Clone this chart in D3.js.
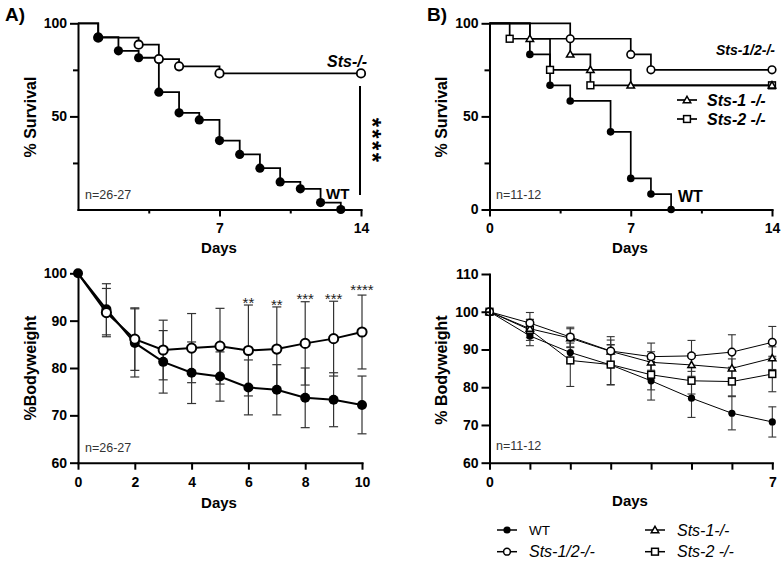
<!DOCTYPE html>
<html><head><meta charset="utf-8">
<script src="https://cdn.jsdelivr.net/npm/d3@7/dist/d3.min.js"></script>
<style>body{margin:0;background:#fff}svg{display:block}</style>
</head><body>
<svg id="chart" width="781" height="562"></svg>
<script>
// ---------- DATA ----------
// Panel A survival (Kaplan-Meier steps)
const survA_WT_days = [0,1,2,3,4,5,6,7,8,9,10,11,12,13];
const survA_WT_vals = [100,92.6,85.2,81.5,63.0,51.9,48.1,37.0,29.6,22.2,14.8,11.1,3.7,0];
const survA_KO_days = [0,1,3,4,5,7,14];
const survA_KO_vals = [100,92.3,88.5,80.8,76.9,73.1,73.1];
// Panel A bodyweight
const bwA_days = [0,1,2,3,4,5,6,7,8,9,10];
const bwA_WT_mean = [100,92.4,85.3,81.3,79.0,78.2,75.9,75.4,73.7,73.3,72.2];
const bwA_WT_sd   = [0,5.4,7.2,6.6,6.5,5.2,5.8,5.3,6.3,5.7,6.1];
const bwA_KO_mean = [100,91.7,86.1,83.8,84.2,84.6,83.7,84.0,85.2,86.2,87.6];
const bwA_KO_sd   = [0,5.1,6.6,6.3,7.3,8.0,9.6,8.9,8.8,7.9,7.8];
const bwA_sigDays = [6,7,8,9,10];
const bwA_sigText = ["**","**","***","***","****"];
// Panel B survival
const survB_WT_days = [0,2,3,4,6,7,8,9];
const survB_WT_vals = [100,83.3,66.7,58.3,41.7,16.7,8.3,0];
const survB_DKO_days = [0,4,7,8,14];
const survB_DKO_vals = [100,91.7,83.3,75,75];
const survB_S1_days = [0,2,4,5,7,14];
const survB_S1_vals = [100,91.7,83.3,75,66.7,66.7];
const survB_S2_days = [0,1,3,5,14];
const survB_S2_vals = [100,91.7,75,66.7,66.7];
// Panel B bodyweight
const bwB_days = [0,1,2,3,4,5,6,7];
const bwB_WT_mean  = [100,93.6,89.2,85.9,81.7,77.1,73.1,70.8];
const bwB_WT_sd    = [0,2.6,2.5,5.3,5.1,5.1,4.4,4.0];
const bwB_DKO_mean = [100,97.0,93.3,89.6,88.1,88.3,89.3,91.9];
const bwB_DKO_sd   = [0,2.8,2.6,3.8,3.6,4.1,4.6,4.2];
const bwB_S1_mean  = [100,95.5,93.0,89.5,86.6,85.9,85.0,87.7];
const bwB_S1_sd    = [0,2.4,2.5,3.0,2.8,3.0,2.5,3.0];
const bwB_S2_mean  = [100,95.2,87.1,86.0,83.3,81.7,81.5,83.5];
const bwB_S2_sd    = [0,2.8,6.9,5.3,4.0,3.5,3.8,4.7];
// Labels
const legendLabels = ["WT","Sts-1/2-/-","Sts-1-/-","Sts-2 -/-"];

// ---------- SETUP ----------
const F = "'Liberation Sans', Arial, Helvetica, sans-serif";
const svg = d3.select("#chart");
svg.append("rect").attr("width",781).attr("height",562).attr("fill","#fff");

function marker(g, type, cx, cy, s, sw){
  if(type==="fcircle"){
    g.append("circle").attr("cx",cx).attr("cy",cy).attr("r",s).attr("fill","#000");
  } else if(type==="ocircle"){
    g.append("circle").attr("cx",cx).attr("cy",cy).attr("r",s).attr("fill","#fff").attr("stroke","#000").attr("stroke-width",sw);
  } else if(type==="square"){
    g.append("rect").attr("x",cx-s).attr("y",cy-s).attr("width",2*s).attr("height",2*s).attr("fill","#fff").attr("stroke","#000").attr("stroke-width",sw);
  } else if(type==="triangle"){
    const h=s*1.1;
    g.append("path").attr("d",`M${cx},${cy-h}L${cx+s*1.1},${cy+s*0.8}L${cx-s*1.1},${cy+s*0.8}Z`).attr("fill","#fff").attr("stroke","#000").attr("stroke-width",sw);
  }
}

function styleAxis(sel, fs){
  sel.selectAll("path").attr("stroke","#000").attr("stroke-width",2).attr("stroke-linecap","square");
  sel.selectAll("line").attr("stroke","#000").attr("stroke-width",2);
  sel.selectAll("text").attr("font-family",F).attr("font-weight","bold").attr("font-size",fs).attr("fill","#000");
}

function yAxis(x0, y, major, minor, labelled, fs){
  const a = svg.append("g").attr("transform",`translate(${x0},0)`)
    .call(d3.axisLeft(y).tickValues(major).tickSizeInner(8).tickSizeOuter(0).tickPadding(3)
      .tickFormat(d=>labelled.includes(d)?d:""));
  styleAxis(a, fs);
  if(minor.length){
    const m = svg.append("g").attr("transform",`translate(${x0},0)`)
      .call(d3.axisLeft(y).tickValues(minor).tickSizeInner(5).tickSizeOuter(0).tickFormat(""));
    styleAxis(m, fs); m.select("path").remove();
  }
}
function xAxis(y0, x, major, minor, labelled, fs){
  const a = svg.append("g").attr("transform",`translate(0,${y0})`)
    .call(d3.axisBottom(x).tickValues(major).tickSizeInner(7).tickSizeOuter(0).tickPadding(7)
      .tickFormat(d=>labelled.includes(d)?d:""));
  styleAxis(a, fs);
  if(minor.length){
    const m = svg.append("g").attr("transform",`translate(0,${y0})`)
      .call(d3.axisBottom(x).tickValues(minor).tickSizeInner(4).tickSizeOuter(0).tickFormat(""));
    styleAxis(m, fs); m.select("path").remove();
  }
}
function text(x,y,t,o={}){
  const e = svg.append("text").attr("x",x).attr("y",y).text(t)
    .attr("font-family",F).attr("font-size",o.size||14).attr("font-weight",o.weight||"normal")
    .attr("font-style",o.style||"normal").attr("fill",o.fill||"#000")
    .attr("text-anchor",o.anchor||"start");
  if(o.rotate) e.attr("transform",`rotate(${o.rotate},${x},${y})`);
  return e;
}
function survivalSeries(x, y, days, vals, type, s, sw, lw){
  const pts = days.map((d,i)=>[d,vals[i]]);
  const line = d3.line().x(d=>x(d[0])).y(d=>y(d[1])).curve(d3.curveStepAfter);
  svg.append("path").attr("d",line(pts)).attr("fill","none").attr("stroke","#000").attr("stroke-width",lw);
  return ()=>{ const g=svg.append("g"); pts.slice(1).forEach(p=>marker(g,type,x(p[0]),y(p[1]),s,sw)); };
}
function bwSeries(x, y, days, mean, sd, lw, capW, errCol, errW){
  const g = svg.append("g");
  days.forEach((d,i)=>{
    if(sd[i]<=0) return;
    const cx=x(d), t=y(mean[i]+sd[i]), b=y(mean[i]-sd[i]);
    g.append("line").attr("x1",cx).attr("x2",cx).attr("y1",t).attr("y2",b).attr("stroke",errCol).attr("stroke-width",errW);
    [t,b].forEach(v=>g.append("line").attr("x1",cx-capW).attr("x2",cx+capW).attr("y1",v).attr("y2",v).attr("stroke",errCol).attr("stroke-width",errW));
  });
}
function bwLine(x,y,days,mean,lw){
  const line=d3.line().x((d,i)=>x(days[i])).y(d=>y(d));
  svg.append("path").attr("d",line(mean)).attr("fill","none").attr("stroke","#000").attr("stroke-width",lw);
}

// ---------- PANEL A: survival ----------
{
  const x = d3.scaleLinear().domain([0,14]).range([78,361]);
  const y = d3.scaleLinear().domain([0,100]).range([209.5,23.3]);
  const mKO = survivalSeries(x,y,survA_KO_days,survA_KO_vals,"ocircle",4.2,1.8,1.8);
  const mWT = survivalSeries(x,y,survA_WT_days,survA_WT_vals,"fcircle",4.6,1.8,1.8);
  mKO(); mWT();
  yAxis(78,y,[100,50],[75,25],[100,50],14);
  xAxis(209.5,x,[7,14],[3.5,10.5],[7,14],14);
  text(5,21,"A)",{size:19,weight:"bold"});
  text(30,117,"% Survival",{size:16,weight:"bold",anchor:"middle",rotate:-90}).attr("dy","0.35em");
  text(219,253,"Days",{size:15,weight:"bold",anchor:"middle"});
  text(367,67,"Sts-/-",{size:16,weight:"bold",style:"italic",anchor:"end"});
  text(326,199,"WT",{size:15,weight:"bold"});
  text(85,199,"n=26-27",{size:12.5,fill:"#333"});
  svg.append("line").attr("x1",360).attr("x2",360).attr("y1",86).attr("y2",195).attr("stroke","#000").attr("stroke-width",2);
  // significance stars as a single rotated text
  text(364,141,"****",{size:24,weight:"bold",anchor:"middle",rotate:90}).attr("letter-spacing","2.3px");
}

// ---------- PANEL A: bodyweight ----------
{
  const x = d3.scaleLinear().domain([0,10]).range([78,362]);
  const y = d3.scaleLinear().domain([60,100]).range([462.7,273.3]);
  bwSeries(x,y,bwA_days,bwA_WT_mean,bwA_WT_sd,2,4.5,"#333",1.2);
  bwSeries(x,y,bwA_days,bwA_KO_mean,bwA_KO_sd,2,4.5,"#333",1.2);
  bwLine(x,y,bwA_days,bwA_WT_mean,2);
  bwLine(x,y,bwA_days,bwA_KO_mean,2);
  const g=svg.append("g");
  bwA_days.forEach((d,i)=>marker(g,"fcircle",x(d),y(bwA_WT_mean[i]),5,2));
  bwA_days.forEach((d,i)=>{ if(i>0) marker(g,"ocircle",x(d),y(bwA_KO_mean[i]),4.6,2); });
  bwA_sigDays.forEach((d,i)=>{
    const idx=bwA_days.indexOf(d);
    const top=Math.min(y(bwA_KO_mean[idx]+bwA_KO_sd[idx]),y(bwA_WT_mean[idx]+bwA_WT_sd[idx]));
    text(x(d),top-6+8.6-(i===4?3:0),bwA_sigText[i],{size:15,anchor:"middle",fill:"#222"});
  });
  yAxis(78,y,[60,70,80,90,100],[],[60,70,80,90,100],14);
  xAxis(462.7,x,[0,2,4,6,8,10],[],[0,2,4,6,8,10],14);
  text(30,368,"%Bodyweight",{size:16,weight:"bold",anchor:"middle",rotate:-90}).attr("dy","0.35em");
  text(219,508,"Days",{size:15,weight:"bold",anchor:"middle"});
  text(85,452,"n=26-27",{size:12.5,fill:"#333"});
}

// ---------- PANEL B: survival ----------
{
  const x = d3.scaleLinear().domain([0,14]).range([489.5,772]);
  const y = d3.scaleLinear().domain([0,100]).range([209.5,23.3]);
  const mS2 = survivalSeries(x,y,survB_S2_days,survB_S2_vals,"square",3.4,1.5,1.7);
  const mS1 = survivalSeries(x,y,survB_S1_days,survB_S1_vals,"triangle",3.4,1.5,1.7);
  const mD = survivalSeries(x,y,survB_DKO_days,survB_DKO_vals,"ocircle",3.8,1.6,1.7);
  const mW = survivalSeries(x,y,survB_WT_days,survB_WT_vals,"fcircle",3.8,1.5,1.7);
  mS2(); mS1(); mD(); mW();
  yAxis(489.5,y,[100,50,0],[75,25],[100,50,0],14);
  xAxis(209.5,x,[0,7,14],[3.5,10.5],[0,7,14],14);
  text(427,21,"B)",{size:19,weight:"bold"});
  text(441,117,"% Survival",{size:16,weight:"bold",anchor:"middle",rotate:-90}).attr("dy","0.35em");
  text(630,253,"Days",{size:15,weight:"bold",anchor:"middle"});
  text(775,55,"Sts-1/2-/-",{size:14,weight:"bold",style:"italic",anchor:"end"});
  text(678,202,"WT",{size:16,weight:"bold"});
  text(496,199,"n=11-12",{size:12.5,fill:"#333"});
  // inset legend
  const lg=svg.append("g");
  [[100,"triangle",legendLabels[2].replace("1-","1 -")],[119,"square",legendLabels[3]]].forEach(r=>{
    lg.append("line").attr("x1",677).attr("x2",697).attr("y1",r[0]).attr("y2",r[0]).attr("stroke","#000").attr("stroke-width",1.7);
    marker(lg,r[1],687,r[0],3.4,1.5);
    text(707,r[0]+5.7,r[2],{size:16,weight:"bold",style:"italic"});
  });
}

// ---------- PANEL B: bodyweight ----------
{
  const x = d3.scaleLinear().domain([0,7]).range([489.5,772.3]);
  const y = d3.scaleLinear().domain([60,110]).range([462.7,274]);
  const series=[
    [bwB_WT_mean,bwB_WT_sd,"fcircle",3.6],
    [bwB_S2_mean,bwB_S2_sd,"square",3.4],
    [bwB_S1_mean,bwB_S1_sd,"triangle",3.3],
    [bwB_DKO_mean,bwB_DKO_sd,"ocircle",3.8]
  ];
  series.forEach(s=>bwSeries(x,y,bwB_days,s[0],s[1],1,4,"#333",1.1));
  series.forEach(s=>bwLine(x,y,bwB_days,s[0],1));
  const g=svg.append("g");
  series.forEach(s=>bwB_days.forEach((d,i)=>marker(g,s[2],x(d),y(s[0][i]),s[3],1.5)));
  yAxis(489.5,y,[60,70,80,90,100,110],[],[60,70,80,90,100,110],14);
  xAxis(462.7,x,[0,1,2,3,4,5,6,7],[],[0,7],14);
  text(441,370,"% Bodyweight",{size:16,weight:"bold",anchor:"middle",rotate:-90}).attr("dy","0.35em");
  text(630,506,"Days",{size:15,weight:"bold",anchor:"middle"});
  text(496,450,"n=11-12",{size:12.5,fill:"#333"});
  // legend
  const lg=svg.append("g");
  const items=[[497,530,"fcircle",legendLabels[0],13.5,"normal"],[497,551.7,"ocircle",legendLabels[1],16,"italic"],
               [645,530,"triangle",legendLabels[2],16,"italic"],[645,551.7,"square",legendLabels[3],16,"italic"]];
  items.forEach(it=>{
    lg.append("line").attr("x1",it[0]).attr("x2",it[0]+20).attr("y1",it[1]).attr("y2",it[1]).attr("stroke","#000").attr("stroke-width",1.5);
    marker(lg,it[2],it[0]+10,it[1],it[2]==="fcircle"?3.6:3.4,1.5);
    text(it[0]+32,it[1]+(it[4]<14?4.8:5.7),it[3],{size:it[4],style:it[5]});
  });
}
</script>
</body></html>
